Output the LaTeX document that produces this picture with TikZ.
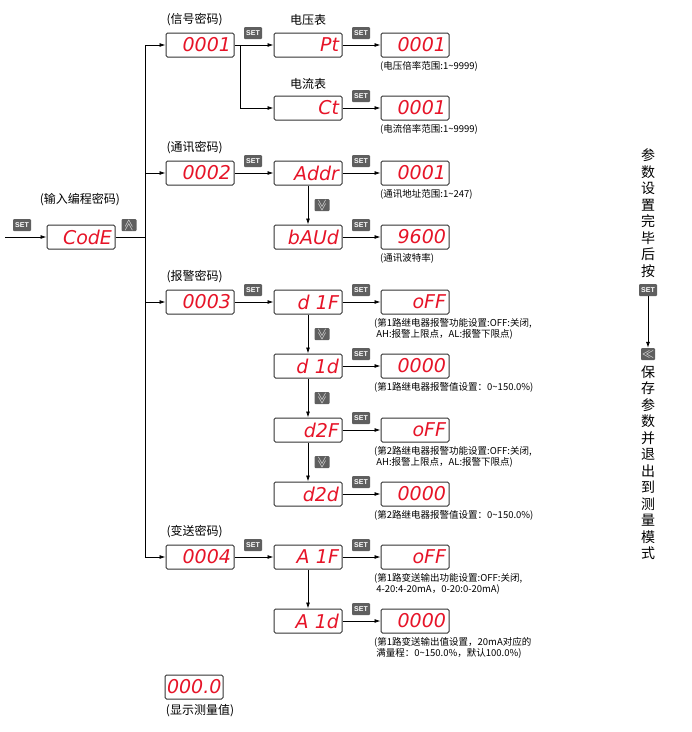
\documentclass[tikz,border=0pt]{standalone}
\usepackage{fontspec}
\setmainfont{Liberation Sans}
\newfontfamily\cjk{Noto Sans CJK SC}
\newfontfamily\segf{DejaVu Sans}
\usetikzlibrary{arrows.meta}
\definecolor{segred}{RGB}{230,20,40}
\definecolor{icongray}{RGB}{95,95,95}
\begin{document}
\begin{tikzpicture}[x=1pt,y=-1pt,
  disp/.style={draw=black!80,line width=1pt,rounded corners=1.5pt,minimum width=68pt,minimum height=24pt,inner sep=0pt,font=\segf\fontsize{19}{20}\selectfont\itshape,text=segred,align=right},
  lab/.style={font=\cjk\fontsize{12}{13}\selectfont},
  note/.style={font=\cjk\fontsize{9.5}{11.5}\selectfont,align=left,anchor=north west,inner sep=0pt},
  icon/.style={fill=icongray,rounded corners=1pt,text=white,font=\bfseries\fontsize{7}{7}\selectfont,minimum width=18pt,minimum height=12pt,inner sep=0pt},
  chev/.style={icon,minimum width=15pt,font=\fontsize{12}{12}\selectfont},
  arr/.style={-{Latex[length=6pt,width=4pt]},line width=0.8pt},
  ln/.style={line width=0.8pt}]
\useasboundingbox (0,0) rectangle (692,732);
\newcommand{\setic}[2]{\node[icon] at (#1,#2) {SET};}
\newcommand{\dnic}[2]{\node[chev] at (#1,#2) {\rotatebox{90}{$\ll$}};}
% CodE
\node[disp,text width=62pt] (code) at (81,237) {CodE};
\node[lab] at (80,200) {(输入编程密码)};
\coordinate (in) at (5,237);
\draw[arr] (in) -- (code);
\setic{22}{225}
\node[chev] at (129,225) {\rotatebox{-90}{$\ll$}};
\coordinate (bt) at (145,45);
\coordinate (bb) at (145,557);
\coordinate (bm) at (145,237);
\draw[ln] (code) -- (bm);
\draw[ln] (bt) -- (bb);
% column 1
\foreach \n/\t/\y in {c1/0001/45,c2/0002/173,c3/0003/302,c4/0004/557}{
  \node[disp,text width=62pt] (\n) at (200,\y) {\t};
  \coordinate (b\n) at (145,\y);
  \draw[arr] (b\n) -- (\n);
}
\node[lab,anchor=west] at (163,20) {(信号密码)};
\node[lab,anchor=west] at (163,148) {(通讯密码)};
\node[lab,anchor=west] at (163,277) {(报警密码)};
\node[lab,anchor=west] at (163,532) {(变送密码)};
% column 2
\foreach \n/\t/\y in {pt/Pt/45,ct/Ct/108,ad/Addr/173,ba/bAUd/237,d1f/d 1F/302,d1d/d 1d/366,d2f/d2F/430,d2d/d2d/494,a1f/A 1F/557,a1d/A 1d/621}{
  \node[disp,text width=62pt] (\n) at (308,\y) {\t};
}
\node[lab] at (308,20) {电压表};
\node[lab] at (308,84) {电流表};
% column 3
\foreach \n/\t/\y in {v1/0001/45,v2/0001/108,v3/0001/173,v4/9600/237,v5/oFF/302,v6/0000/366,v7/oFF/430,v8/0000/494,v9/oFF/557,v10/0000/621}{
  \node[disp,text width=62pt] (\n) at (415,\y) {\t};
}
% connectors col1->col2
\draw[arr] (c1) -- (pt);
\coordinate (br) at (240,45);
\coordinate (brb) at (240,108);
\draw[ln] (br) -- (brb);
\draw[arr] (brb) -- (ct);
\draw[arr] (c2) -- (ad);
\draw[arr] (c3) -- (d1f);
\draw[arr] (c4) -- (a1f);
\setic{253}{33}\setic{253}{161}\setic{253}{290}\setic{253}{545}
% vertical
\draw[arr] (ad) -- (ba);
\draw[arr] (d1f) -- (d1d);
\draw[arr] (d1d) -- (d2f);
\draw[arr] (d2f) -- (d2d);
\draw[arr] (a1f) -- (a1d);
\dnic{322}{205}\dnic{322}{334}\dnic{322}{398}\dnic{322}{462}
% col2->col3
\foreach \a/\b/\y in {pt/v1/45,ct/v2/108,ad/v3/173,ba/v4/237,d1f/v5/302,d1d/v6/366,d2f/v7/430,d2d/v8/494,a1f/v9/557,a1d/v10/621}{
  \draw[arr] (\a) -- (\b);
  \node[icon] at (361,\y-12) {SET};
}
% notes
\node[note] at (380,61) {(电压倍率范围:1\textasciitilde9999)};
\node[note] at (380,124) {(电流倍率范围:1\textasciitilde9999)};
\node[note] at (380,189) {(通讯地址范围:1\textasciitilde247)};
\node[note] at (380,253) {(通讯波特率)};
\node[note] at (374,318) {(第1路继电器报警功能设置:OFF:关闭,\\\ AH:报警上限点，AL:报警下限点)};
\node[note] at (374,382) {(第1路继电器报警值设置：0\textasciitilde150.0\%)};
\node[note] at (374,446) {(第2路继电器报警功能设置:OFF:关闭,\\\ AH:报警上限点，AL:报警下限点)};
\node[note] at (374,510) {(第2路继电器报警值设置：0\textasciitilde150.0\%)};
\node[note] at (374,573) {(第1路变送输出功能设置:OFF:关闭,\\\ 4-20:4-20mA，0-20:0-20mA)};
\node[note] at (374,637) {(第1路变送输出值设置，20mA对应的\\\ 满量程：0\textasciitilde150.0\%，默认100.0\%)};
% measurement
\node[disp,minimum width=58pt,text width=54pt] (meas) at (194,687) {000.0};
\node[lab] at (200,711) {(显示测量值)};
% right side
\node[lab,align=center,font=\cjk\fontsize{14}{16.5}\selectfont] at (648,213) {参\\数\\设\\置\\完\\毕\\后\\按};
\node[icon] (rs) at (648,290) {SET};
\node[chev,minimum width=14pt] (rb) at (648,354) {$\ll$};
\draw[arr] (rs) -- (rb);
\node[lab,align=center,font=\cjk\fontsize{14}{16.5}\selectfont,anchor=north] at (648,362) {保\\存\\参\\数\\并\\退\\出\\到\\测\\量\\模\\式};
\end{tikzpicture}
\end{document}
